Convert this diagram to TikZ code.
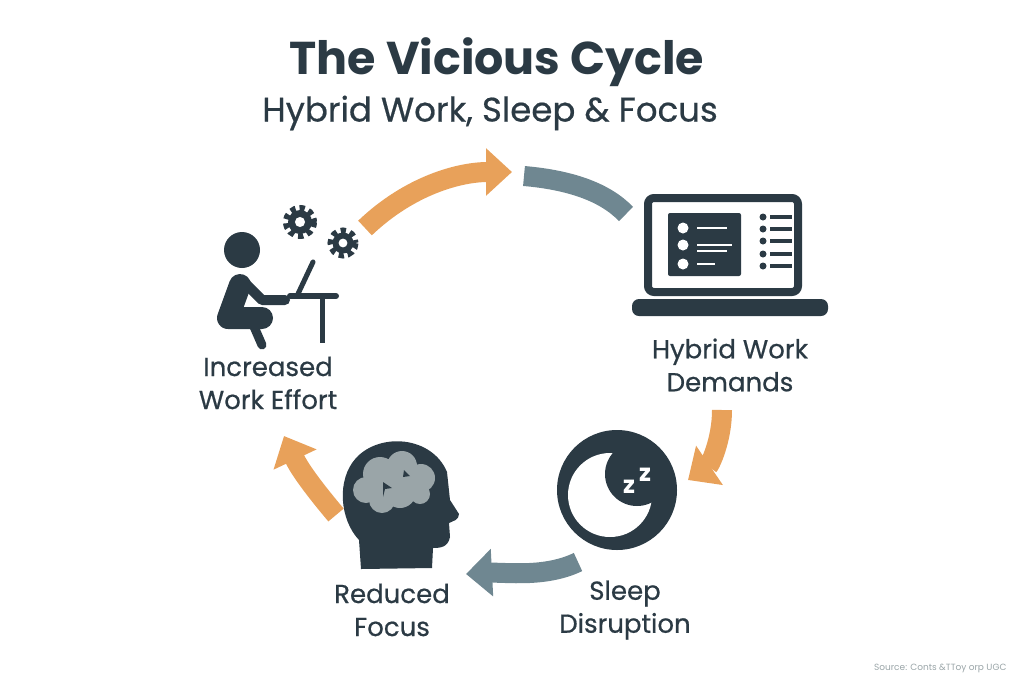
\documentclass[tikz,border=0pt]{standalone}
\usepackage{fontspec}
\setmainfont{Poppins}
\newfontfamily\medfont{Poppins}[FakeBold=0.6]
\usetikzlibrary{arrows.meta}
\definecolor{dk}{HTML}{2B3A44}
\definecolor{org}{HTML}{E8A15A}
\definecolor{gry}{HTML}{6F8791}
\definecolor{lgr}{HTML}{9AA5A8}
\tikzset{
 lbl/.style={font=\medfont\fontsize{26}{33}\selectfont, text=dk, align=center},
 oarr/.style={draw=org, line width=20pt, -{Triangle[width=46pt,length=26pt]}},
 garr/.style={draw=gry, line width=20pt},
 garrh/.style={draw=gry, line width=20pt, -{Triangle[width=46pt,length=26pt]}}
}
\begin{document}
\begin{tikzpicture}[x=1pt,y=-1pt]
\useasboundingbox (0,0) rectangle (1024,683);
\node[text=dk, font=\fontsize{46}{50}\selectfont\bfseries] (title) at (497,62) {The Vicious Cycle};
\node[text=dk, font=\medfont\fontsize{34}{38}\selectfont] (sub) at (490,113) {Hybrid Work, Sleep \& Focus};
% arrows
\coordinate (a1s) at (365,228); \coordinate (a1e) at (512,172);
\draw[oarr] (a1s) .. controls (410,185) and (460,172) .. (a1e);
\coordinate (a2s) at (524,176); \coordinate (a2e) at (626,214);
\draw[garr] (a2s) .. controls (570,180) and (605,192) .. (a2e);
\coordinate (a3s) at (722,410); \coordinate (a3e) at (688,480);
\draw[oarr] (a3s) .. controls (722,440) and (710,465) .. (a3e);
\coordinate (a4s) at (578,562); \coordinate (a4e) at (466,574);
\draw[garrh] (a4s) .. controls (545,578) and (505,572) .. (a4e);
\coordinate (a5s) at (336,515); \coordinate (a5e) at (284,436);
\draw[oarr] (a5s) .. controls (315,490) and (300,470) .. (a5e);
% person
\fill[dk] (242,250) circle (18);
\draw[dk, line width=22pt, line cap=round, line join=round] (240,285) -- (228,318) -- (262,318);
\draw[dk, line width=10pt, line cap=round, line join=round] (245,283) -- (262,300) -- (285,300);
\draw[dk, line width=9pt, line cap=round, line join=round] (228,320) -- (252,322) -- (262,345);
\draw[dk, line width=6pt, line cap=round] (290,296) -- (336,296);
\draw[dk, line width=5pt] (322,296) -- (322,343);
\draw[dk, line width=5pt, line cap=round] (297,296) -- (313,262);
\foreach \gx/\gy/\r in {300/222/12, 343/243/10.5}{
 \fill[dk] (\gx,\gy) circle (\r);
 \draw[dk, line width=7pt, dash pattern=on 5pt off 4pt] (\gx,\gy) circle (\r+1.5);
 \fill[white] (\gx,\gy) circle (\r*0.42);
}
% laptop
\draw[dk, line width=8pt, rounded corners=6pt] (648,198) rectangle (798,292);
\fill[dk] (722,196) circle (1.2);
\fill[dk, rounded corners=7pt] (632,299) rectangle (828,316);
\fill[dk, rounded corners=2pt] (668,213) rectangle (741,276);
\foreach \yy/\l in {228/30,245/35,264/18}{
 \fill[white] (683,\yy) circle (5.5);
 \draw[white, line width=2pt] (697,\yy) -- ++(\l,0);
}
\draw[white, line width=2pt] (697,251) -- (727,251);
\foreach \yy in {217,229,241,254,266}{
 \fill[dk] (763,\yy) circle (3.5);
 \draw[dk, line width=4pt] (770,\yy) -- (792,\yy);
}
% moon
\fill[dk] (617,490) circle (60);
\fill[white] (610,495) circle (42);
\fill[dk] (637,474) circle (32);
\node[text=white, font=\fontsize{24}{24}\selectfont\bfseries] (zz) at (629,487) {z};
\node[text=white, font=\fontsize{24}{24}\selectfont\bfseries] (zz2) at (645,475) {z};
% head
\fill[dk] (361,569) -- (359,540) .. controls (340,520) and (336,480) .. (356,458)
 .. controls (380,432) and (432,436) .. (447,472) -- (450,500) -- (459,514)
 .. controls (459,520) and (453,521) .. (449,523) -- (450,537) .. controls (448,547) and (441,548) .. (433,548)
 -- (432,568) -- cycle;
\fill[lgr] (380,474) circle (17) (402,466) circle (15) (421,478) circle (14)
 (366,490) circle (13) (400,492) circle (16) (382,500) circle (13) (420,494) circle (10);
\fill[dk] (383,482) -- (392,488) -- (385,489) -- (383,497) -- cycle;
\fill[dk] (404,470) -- (410,476) -- (403,477) -- cycle;
% labels
\node[lbl] (l1) at (268,383) {Increased\\Work Effort};
\node[lbl] (l2) at (730,365) {Hybrid Work\\Demands};
\node[lbl] (l3) at (392,610) {Reduced\\Focus};
\node[lbl] (l4) at (625,610) {Sleep\\Disruption};
\node[text=lgr, font=\fontsize{9}{10}\selectfont, anchor=east] (src) at (1010,668) {Source: Conts \&TToy orp UGC};
\end{tikzpicture}
\end{document}
